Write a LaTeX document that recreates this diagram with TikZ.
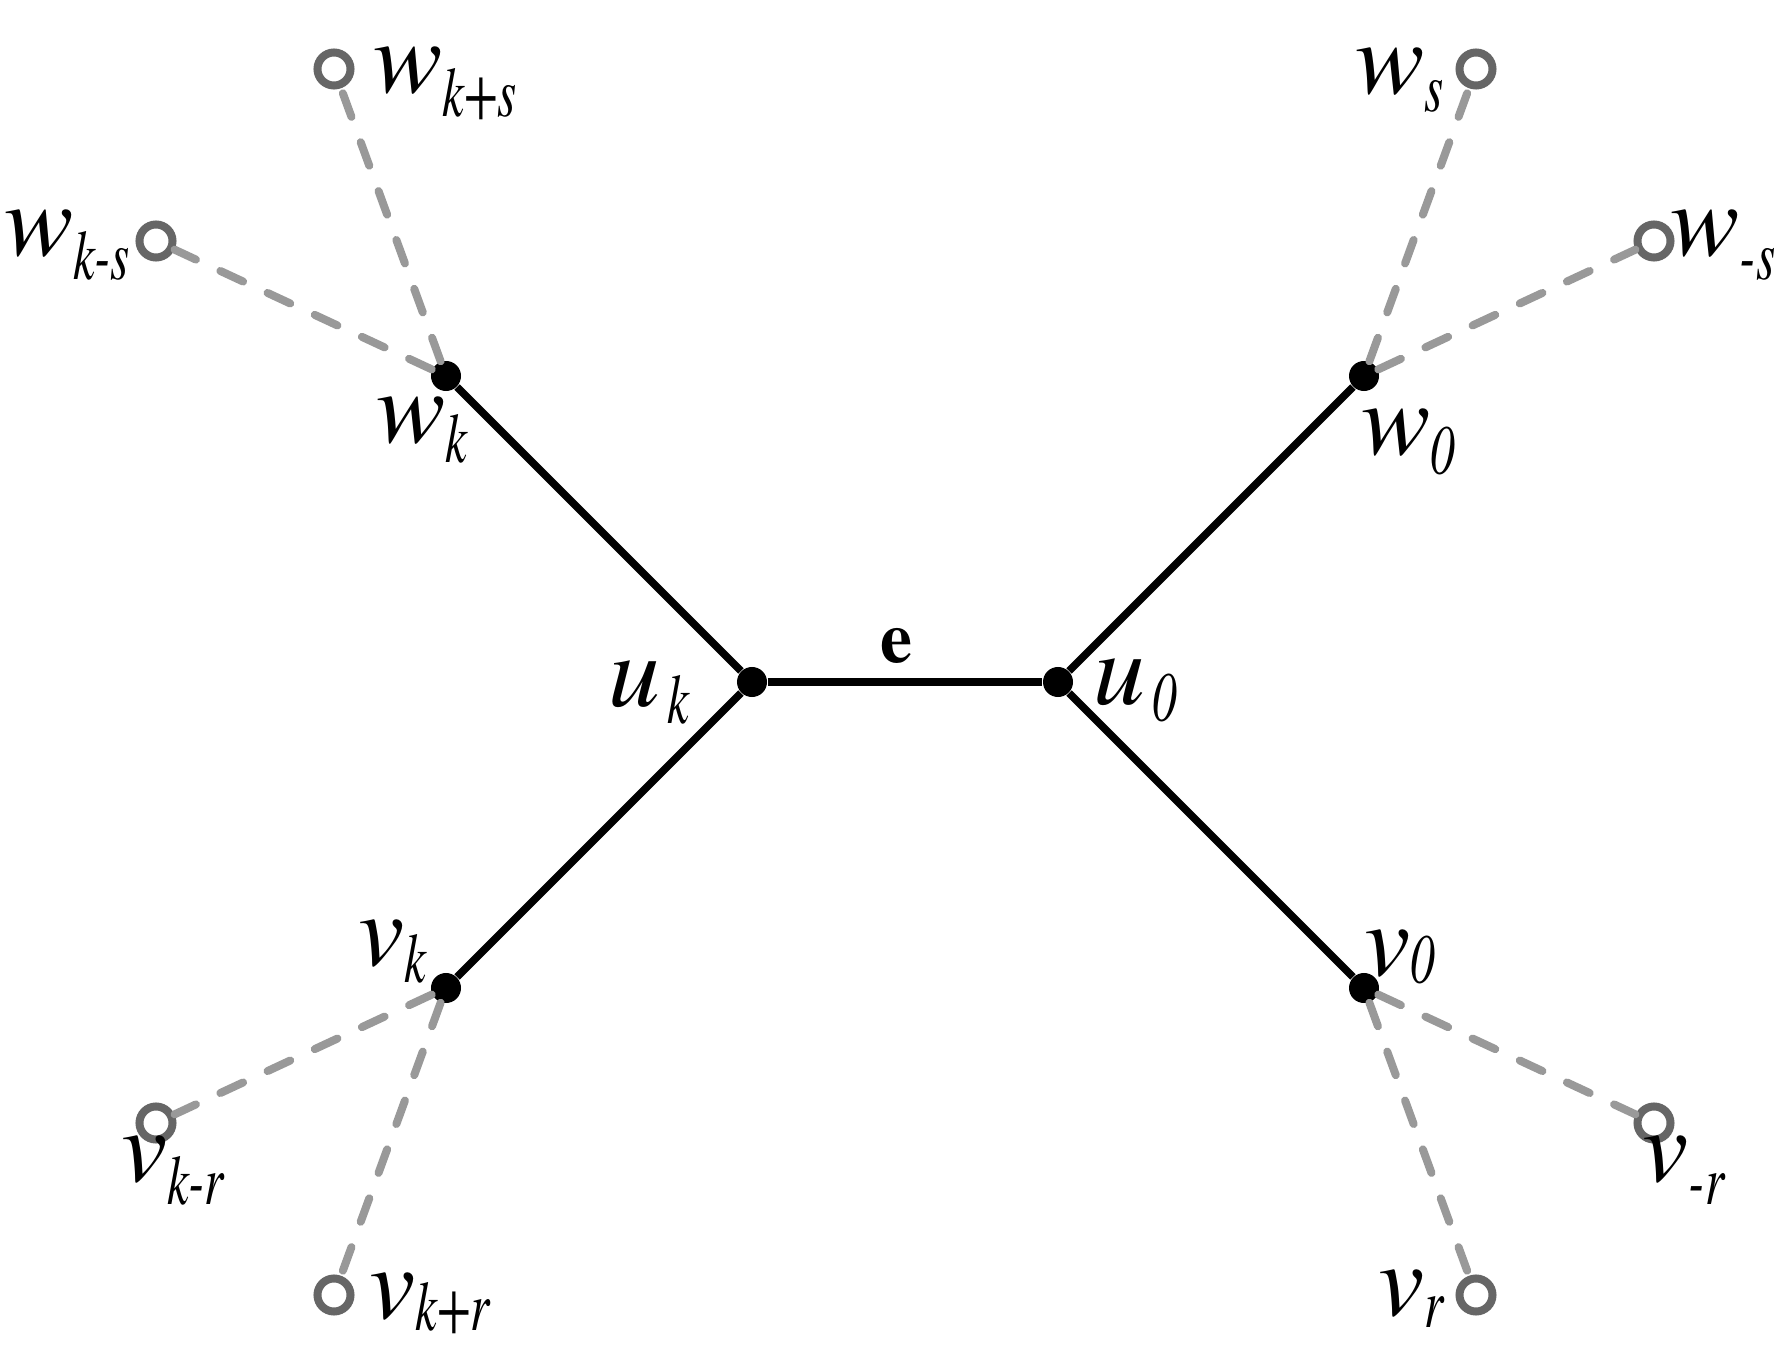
\documentclass[tikz,border=0pt]{standalone}
\usepackage{fontspec}
\setmainfont{texgyretermes}[Extension=.otf, UprightFont=*-regular, ItalicFont=*-italic, BoldFont=*-bold, BoldItalicFont=*-bolditalic]
\definecolor{ringgray}{HTML}{666666}
\definecolor{dashgray}{HTML}{999999}
\newcommand\subtxt[1]{\scalebox{0.7}[1]{\fontsize{20}{23}\selectfont\itshape #1}}
\newcommand\lab[3][6.6pt]{{\fontsize{29.5}{34}\selectfont\itshape #2}\raisebox{-#1}{\subtxt{#3}}}
\newcommand\labu[2]{{\fontsize{29.5}{34}\selectfont\itshape #1}\kern2pt\raisebox{-4.6pt}{\subtxt{#2}}}
\tikzset{
  dotnode/.style={circle, fill=black, inner sep=0pt, minimum size=0.3cm},
  ringnode/.style={circle, draw=ringgray, fill=white, line width=0.08cm, inner sep=0pt, minimum size=0.33cm},
  solidedge/.style={line width=0.075cm, black},
  dashedge/.style={line width=0.08cm, dashgray, line cap=round, dash pattern=on 0.25cm off 0.27cm},
  lbl/.style={inner sep=0pt, anchor=base west},
}
\begin{document}
\begin{tikzpicture}[x=0.01cm,y=-0.01cm]
\path[use as bounding box, fill=white] (0,0) rectangle (1775,1349);
% main vertices
\node[dotnode] (uk) at (752,682) {};
\node[dotnode] (u0) at (1058,682) {};
\node[dotnode] (wk) at (446,376) {};
\node[dotnode] (vk) at (446,988) {};
\node[dotnode] (w0) at (1364,376) {};
\node[dotnode] (v0) at (1364,988) {};
% outer vertices
\node[ringnode] (wkps) at (334,69) {};
\node[ringnode] (wkms) at (156,241) {};
\node[ringnode] (ws) at (1476,69) {};
\node[ringnode] (wms) at (1654,241) {};
\node[ringnode] (vkmr) at (156,1123) {};
\node[ringnode] (vkpr) at (334,1295) {};
\node[ringnode] (vr) at (1476,1295) {};
\node[ringnode] (vmr) at (1654,1123) {};
% dashed edges
\draw[dashedge] (wk) -- (wkps);
\draw[dashedge] (wk) -- (wkms);
\draw[dashedge] (w0) -- (ws);
\draw[dashedge] (w0) -- (wms);
\draw[dashedge] (vk) -- (vkmr);
\draw[dashedge] (vk) -- (vkpr);
\draw[dashedge] (v0) -- (vr);
\draw[dashedge] (v0) -- (vmr);
% solid edges
\draw[solidedge] (uk) -- node[pos=0.47, above=0.03cm, font=\fontsize{20.5}{24}\selectfont\bfseries] (elab) {e} (u0);
\draw[solidedge] (uk) -- (wk);
\draw[solidedge] (uk) -- (vk);
\draw[solidedge] (u0) -- (w0);
\draw[solidedge] (u0) -- (v0);
% labels
\node[lbl] (Lwkps) at (373,93) {\lab{w}{k+s}};
\node[lbl] (Lwkms) at (4,256) {\lab{w}{k-s}};
\node[lbl] (Lwk) at (376,443) {\lab[5.6pt]{w}{k}};
\node[lbl] (Lws) at (1355,94) {\lab[5pt]{w}{s}};
\node[lbl] (Lwms) at (1670,256) {\lab{w}{-s}};
\node[lbl] (Lw0) at (1361,455) {\lab[5.6pt]{w}{0}};
\node[lbl] (Luk) at (608,707) {\labu{u}{k}};
\node[lbl] (Lu0) at (1093,705) {\labu{u}{0}};
\node[lbl] (Lvk) at (358,965) {\lab[5pt]{v}{k}};
\node[lbl] (Lv0) at (1364,975) {\lab[2.5pt]{v}{0}};
\node[lbl] (Lvkmr) at (121,1181) {\lab{v}{k-r}};
\node[lbl] (Lvkpr) at (369,1318) {\lab[3.5pt]{v}{k+r}};
\node[lbl] (Lvr) at (1378,1315) {\lab[3.5pt]{v}{r}};
\node[lbl] (Lvmr) at (1642,1181) {\lab{v}{-r}};
\end{tikzpicture}
\end{document}
